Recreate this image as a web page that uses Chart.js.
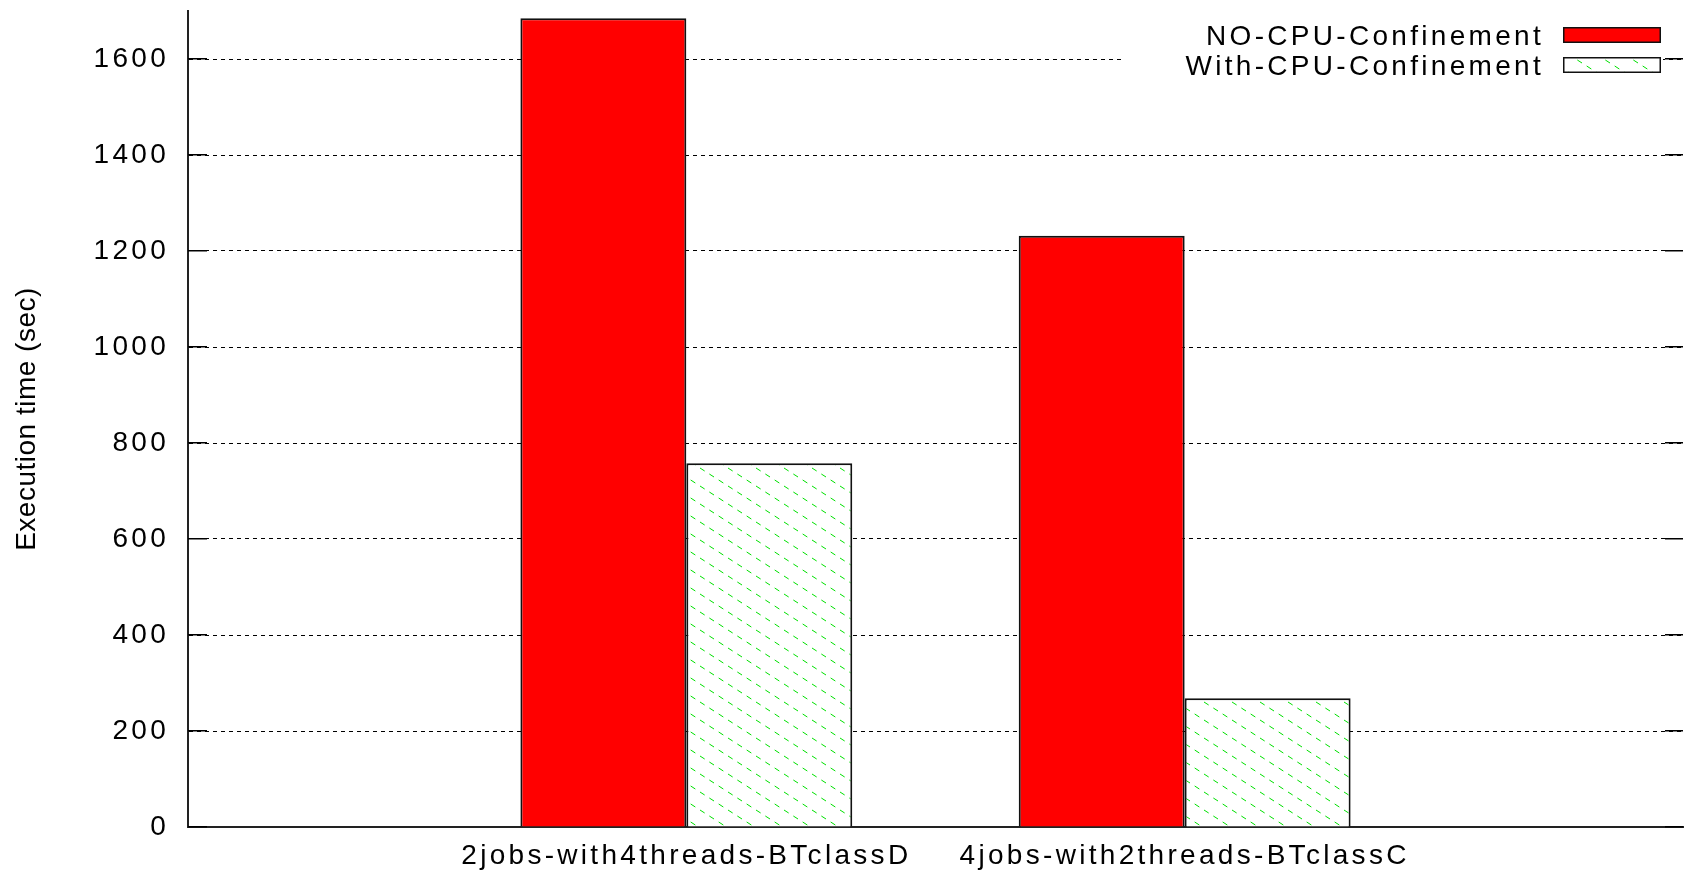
<!DOCTYPE html>
<html>
<head>
<meta charset="utf-8">
<title>Execution time with and without CPU confinement</title>
<script src="https://cdn.jsdelivr.net/npm/chart.js@4.4.1/dist/chart.umd.min.js"></script>
<style>
  html, body { margin: 0; padding: 0; background: #fff; }
  #wrap { width: 1689px; height: 871px; }
</style>
</head>
<body>
<div id="wrap"><canvas id="chart" width="1689" height="871"></canvas></div>
<script>
// Benchmark cases (x axis)
const categories = ['2jobs-with4threads-BTclassD', '4jobs-with2threads-BTclassC'];
// Execution time in seconds
const noConfinement = [1685, 1232];
const withConfinement = [758, 268];
const seriesNames = ['NO-CPU-Confinement', 'With-CPU-Confinement'];
// y axis range and tick step
const yMax = 1700;
const yStep = 200;

const FONT_FAMILY = '"Liberation Sans", Arial, Helvetica, sans-serif';
const FONT_SIZE = 28;
const TEXT_SPACING = '3.3px';
const TITLE_SPACING = '0.5px';

// One empty slot on each side of the two benchmark groups
const labels = [''].concat(categories, ['']);
const pad = (arr) => [null].concat(arr, [null]);

// Diagonal dashed green hatch on white
function makeHatch(color) {
  const w = 28, h = 18;
  const c = document.createElement('canvas');
  c.width = w; c.height = h;
  const g = c.getContext('2d');
  g.fillStyle = '#ffffff';
  g.fillRect(0, 0, w, h);
  g.strokeStyle = color;
  g.lineWidth = 1;
  const period = Math.hypot(w, h) / 3;
  g.setLineDash([period * 0.5, period * 0.5]);
  for (const dx of [-w, 0, w]) {
    g.beginPath();
    g.moveTo(-w + dx, -h);
    g.lineTo(2 * w + dx, 2 * h);
    g.stroke();
  }
  return g.createPattern(c, 'repeat');
}
const hatch = makeHatch('#00e000');

// Wider letter spacing for labels; the rotated axis title keeps tighter spacing
const spacingPlugin = {
  id: 'spacing',
  beforeLayout(chart) { chart.ctx.letterSpacing = TEXT_SPACING; },
  afterLayout(chart) {
    const ys = chart.scales.y;
    if (ys && !ys.__titleSpacing) {
      const orig = ys.drawTitle;
      ys.drawTitle = function (...args) {
        const c = this.ctx;
        const prev = c.letterSpacing;
        c.letterSpacing = TITLE_SPACING;
        orig.apply(this, args);
        c.letterSpacing = prev;
      };
      ys.__titleSpacing = true;
    }
  },
  beforeDraw(chart) { chart.ctx.letterSpacing = TEXT_SPACING; }
};

// Key in the upper right corner: text first, swatch on the right
const cornerLegend = {
  id: 'cornerLegend',
  afterDraw(chart) {
    const { ctx, chartArea } = chart;
    const right = chartArea.right;
    const top = chartArea.top;
    ctx.save();
    ctx.letterSpacing = TEXT_SPACING;
    ctx.fillStyle = '#ffffff';
    ctx.fillRect(right - 560, top + 8, 540, 66);
    ctx.font = FONT_SIZE + 'px ' + FONT_FAMILY;
    ctx.textAlign = 'right';
    ctx.textBaseline = 'alphabetic';
    chart.data.datasets.forEach((ds, i) => {
      const rowTop = top + 16 + i * 30;
      ctx.fillStyle = '#000000';
      ctx.fillText(ds.label, right - 139, rowTop + 18);
      const bx = right - 120, bw = 98, bh = 16;
      ctx.fillStyle = ds.backgroundColor;
      ctx.fillRect(bx, rowTop, bw, bh);
      ctx.lineWidth = 1.5;
      ctx.strokeStyle = '#111111';
      ctx.strokeRect(bx + 0.75, rowTop + 0.75, bw - 1.5, bh - 1.5);
    });
    ctx.restore();
  }
};

// Short solid tick marks inside the plot on both sides
const innerTicks = {
  id: 'innerTicks',
  afterDraw(chart) {
    const { ctx, chartArea } = chart;
    const ys = chart.scales.y;
    ctx.save();
    ctx.strokeStyle = '#000000';
    ctx.lineWidth = 1.5;
    ys.ticks.forEach((t) => {
      const y = Math.round(ys.getPixelForValue(t.value) - 0.75) + 0.75;
      ctx.beginPath();
      ctx.moveTo(chartArea.left, y);
      ctx.lineTo(chartArea.left + 19, y);
      ctx.moveTo(chartArea.right - 18, y);
      ctx.lineTo(chartArea.right, y);
      ctx.stroke();
    });
    ctx.restore();
  }
};

Chart.defaults.font.family = FONT_FAMILY;
Chart.defaults.font.size = FONT_SIZE;
Chart.defaults.color = '#000000';

new Chart(document.getElementById('chart'), {
  type: 'bar',
  data: {
    labels: labels,
    datasets: [
      {
        label: seriesNames[0],
        data: pad(noConfinement),
        backgroundColor: '#ff0000',
        borderColor: '#111111',
        borderWidth: 2,
        categoryPercentage: 0.666,
        barPercentage: 1.0
      },
      {
        label: seriesNames[1],
        data: pad(withConfinement),
        backgroundColor: hatch,
        borderColor: '#111111',
        borderWidth: 2,
        categoryPercentage: 0.666,
        barPercentage: 1.0
      }
    ]
  },
  options: {
    responsive: false,
    devicePixelRatio: 1,
    animation: false,
    events: [],
    layout: { padding: { top: 11, right: 6, bottom: 0, left: 0 } },
    plugins: {
      legend: { display: false },
      tooltip: { enabled: false }
    },
    scales: {
      x: {
        type: 'category',
        offset: false,
        grid: { display: false, drawTicks: false },
        border: { display: true, color: '#222222', width: 2 },
        ticks: {
          autoSkip: false,
          maxRotation: 0,
          minRotation: 0,
          padding: 12,
          font: { size: FONT_SIZE }
        },
        afterFit(s) {
          s.height = 44;
          s.paddingLeft = 0;
          s.paddingRight = 0;
        }
      },
      y: {
        min: 0,
        max: yMax,
        grid: { color: '#000000', lineWidth: 1, drawTicks: false },
        border: { display: true, color: '#222222', width: 2, dash: [4, 4] },
        ticks: {
          stepSize: yStep,
          includeBounds: false,
          padding: 19,
          font: { size: FONT_SIZE },
          callback: (value) => String(value)
        },
        title: {
          display: true,
          text: 'Execution time (sec)',
          font: { size: FONT_SIZE },
          padding: { top: 10, bottom: 0 }
        },
        afterFit(s) {
          s.width = 188;
          s.paddingTop = 0;
          s.paddingBottom = 0;
        }
      }
    }
  },
  plugins: [spacingPlugin, cornerLegend, innerTicks]
});
</script>
</body>
</html>
